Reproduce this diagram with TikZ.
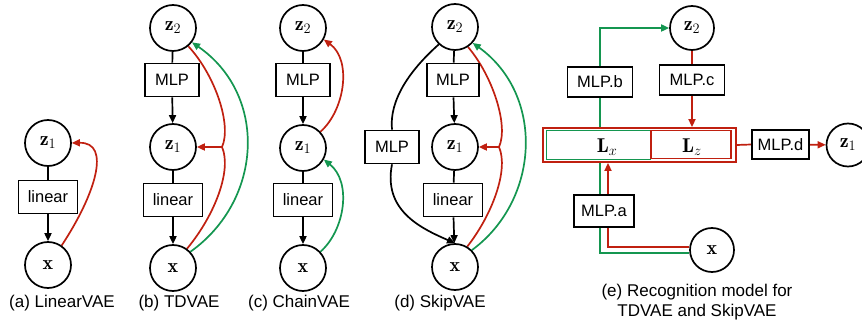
\documentclass[tikz,border=0pt]{standalone}
\usepackage{fontspec}
\newfontfamily\sansf{Liberation Sans}
\usetikzlibrary{arrows.meta,backgrounds}
\definecolor{myred}{RGB}{192,32,16}
\definecolor{mygreen}{RGB}{20,150,80}
\tikzset{
  lat/.style={circle, draw, line width=1.7pt, minimum size=46pt, inner sep=0pt, fill=white, font=\fontsize{20}{24}\selectfont},
  blk/.style={draw, line width=1.7pt, fill=white, minimum height=33pt, inner xsep=4pt, inner ysep=0pt, font=\sansf\fontsize{16.5}{19}\selectfont},
  mlpbox/.style={blk, minimum width=54pt},
  linbox/.style={blk, minimum width=59pt},
  ebox/.style={blk, minimum height=30pt},
  lbox/.style={line width=1.8pt, inner sep=0pt},
  mlab/.style={font=\fontsize{20}{24}\selectfont, inner sep=0pt},
  captxt/.style={font=\sansf\fontsize{17}{20}\selectfont, align=center, inner sep=0pt},
  con/.style={line width=1.7pt},
  arr/.style={con, -{Triangle[length=8pt,width=7pt]}},
}
\begin{document}
\begin{tikzpicture}[x=1pt,y=-1pt]
\useasboundingbox (0,0) rectangle (862,323);

% (a) LinearVAE
\node[lat] (z1a) at (48,143) {$\mathbf{z}_1$};
\node[linbox] (lina) at (48,197) {linear};
\node[lat] (xa) at (48,265) {$\mathbf{x}$};
\node[captxt] (capa) at (62,303) {(a) LinearVAE};

% (b) TDVAE
\node[lat] (z2b) at (173,28) {$\mathbf{z}_2$};
\node[mlpbox] (mlpb) at (172,80) {MLP};
\node[lat] (z1b) at (173,147) {$\mathbf{z}_1$};
\node[linbox] (linb) at (173,200) {linear};
\node[lat] (xb) at (173,268) {$\mathbf{x}$};
\node[captxt] (capb) at (179,303) {(b) TDVAE};
\coordinate (jb) at (222,147);

% (c) ChainVAE
\node[lat] (z2c) at (303,28) {$\mathbf{z}_2$};
\node[mlpbox] (mlpc) at (303,80) {MLP};
\node[lat] (z1c) at (303,148) {$\mathbf{z}_1$};
\node[linbox] (linc) at (303,200) {linear};
\node[lat] (xc) at (303,268) {$\mathbf{x}$};
\node[captxt] (capc) at (299,303) {(c) ChainVAE};

% (d) SkipVAE
\node[lat] (z2d) at (455,27) {$\mathbf{z}_2$};
\node[mlpbox, minimum width=52pt] (mlpd) at (453,80) {MLP};
\node[lat] (z1d) at (455,147) {$\mathbf{z}_1$};
\node[linbox] (lind) at (453,200) {linear};
\node[lat] (xd) at (455,267) {$\mathbf{x}$};
\node[mlpbox] (skipd) at (392,147) {MLP};
\node[captxt] (capd) at (440,303) {(d) SkipVAE};
\coordinate (jd) at (499,147);

% (e) Recognition model
\node[lat, minimum size=44pt] (z2e) at (692,28) {$\mathbf{z}_2$};
\node[ebox, minimum width=65pt] (mlpbE) at (600,82) {MLP.b};
\node[ebox, minimum width=65pt] (mlpcE) at (692,80) {MLP.c};
\node[lbox, draw=myred, fill=white, minimum width=193pt, minimum height=34pt] (Lbox) at (639.5,145) {};
\node[lbox, draw=mygreen, minimum width=104pt, minimum height=29pt] (Lx) at (598.5,145) {};
\node[lbox, draw=myred, minimum width=80pt, minimum height=28pt] (Lz) at (691,144.5) {};
\node[mlab] (Lxt) at (607,147) {$\mathbf{L}_x$};
\node[mlab] (Lzt) at (692,147) {$\mathbf{L}_z$};
\node[ebox, minimum width=60pt, minimum height=32pt] (mlpaE) at (604,211) {MLP.a};
\node[ebox, minimum width=57pt, minimum height=29pt] (mlpdE) at (780.5,144.5) {MLP.d};
\node[lat, minimum size=43pt] (z1e) at (848,145) {$\mathbf{z}_1$};
\node[lat, minimum size=44pt] (xE) at (712,250) {$\mathbf{x}$};
\node[captxt] (cape) at (697,302) {(e) Recognition model for\\TDVAE and SkipVAE};
\coordinate (gc) at (600,28);
\coordinate (rc) at (608,250);

\begin{scope}[on background layer]
% (a)
\draw[con] (z1a) -- (lina);
\draw[arr] (lina) -- (xa);
\draw[arr,myred] (xa.55) .. controls (95,195) and (112,142) .. (z1a.east);
% (b)
\draw[con] (z2b) -- (mlpb);
\draw[arr] (mlpb) -- (z1b);
\draw[con] (z1b) -- (linb);
\draw[arr] (linb) -- (xb);
\draw[con,myred] (z2b.-50) .. controls (215,75) and (232,125) .. (jb);
\draw[con,myred] (xb.54) .. controls (215,215) and (232,170) .. (jb);
\draw[arr,myred] (jb) -- (z1b);
\draw[arr,mygreen] (xb.43) .. controls (263,200) and (268,95) .. (z2b.-37);
% (c)
\draw[con] (z2c) -- (mlpc);
\draw[arr] (mlpc) -- (z1c);
\draw[con] (z1c) -- (linc);
\draw[arr] (linc) -- (xc);
\draw[arr,myred] (z1c.43) .. controls (345,110) and (352,60) .. (z2c.-29);
\draw[arr,mygreen] (xc.43) .. controls (345,230) and (352,182) .. (z1c.-29);
% (d)
\draw[con] (z2d) -- (mlpd);
\draw[arr] (mlpd) -- (z1d);
\draw[con] (z1d) -- (lind);
\draw[arr] (lind) -- (xd);
\draw[con] (z2d.-133) .. controls (410,70) and (389,100) .. (skipd.north);
\draw[arr] (skipd.south) .. controls (383,210) and (420,228) .. (xd.north);
\draw[con,myred] (z2d.-57) .. controls (492,75) and (509,125) .. (jd);
\draw[con,myred] (xd.59) .. controls (492,215) and (509,170) .. (jd);
\draw[arr,myred] (jd) -- (z1d);
\draw[arr,mygreen] (xd.45) .. controls (540,200) and (545,95) .. (z2d.-42);
% (e)
\draw[arr,mygreen] (xE.188) -| (gc) -- (z2e);
\draw[arr,myred] (xE.172) -| (rc |- Lbox.south);
\draw[arr,myred] (z2e) -- (z2e |- Lbox.north);
\draw[con,myred] (Lbox.east) -- (mlpdE.west);
\draw[arr,myred] (mlpdE) -- (z1e);
\end{scope}
\end{tikzpicture}
\end{document}
